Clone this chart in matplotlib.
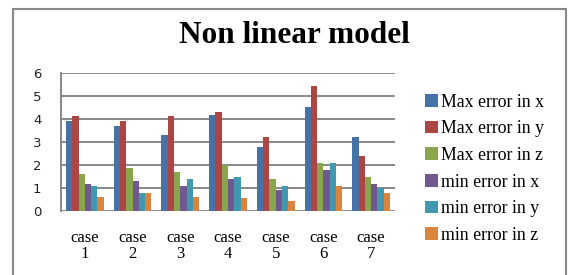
import matplotlib

matplotlib.use("Agg")
import matplotlib.pyplot as plt
import numpy as np
from matplotlib.patches import Rectangle

cases = ["case\n1", "case\n2", "case\n3", "case\n4", "case\n5", "case\n6", "case\n7"]
series_names = [
    "Max error in x",
    "Max error in y",
    "Max error in z",
    "min error in x",
    "min error in y",
    "min error in z",
]
max_err_x = [3.92, 3.70, 3.30, 4.18, 2.78, 4.53, 3.22]
max_err_y = [4.13, 3.92, 4.13, 4.31, 3.22, 5.44, 2.39]
max_err_z = [1.60, 1.88, 1.69, 2.01, 1.38, 2.08, 1.47]
min_err_x = [1.16, 1.30, 1.08, 1.38, 0.90, 1.78, 1.16]
min_err_y = [1.08, 0.77, 1.38, 1.47, 1.08, 2.08, 0.99]
min_err_z = [0.61, 0.77, 0.61, 0.55, 0.42, 1.08, 0.77]
yticks = [0, 1, 2, 3, 4, 5, 6]

colors = ["#4572A7", "#AA4643", "#89A54E", "#71588F", "#4198AF", "#DB843D"]
series = [max_err_x, max_err_y, max_err_z, min_err_x, min_err_y, min_err_z]

fig = plt.figure(figsize=(5.69, 2.75), dpi=100)
ax = fig.add_axes([0.1072, 0.234, 0.587, 0.499])

x = np.arange(len(cases))
width = 0.132
for i, (vals, name, c) in enumerate(zip(series, series_names, colors)):
    ax.bar(x + (i - 2.5) * width, vals, width, color=c, label=name, zorder=3)

ax.set_xlim(-0.5, len(cases) - 0.5)
ax.set_ylim(0, 6)
ax.set_yticks(yticks)
ax.set_yticklabels([str(t) for t in yticks], fontsize=9.5, color="#222222")
ax.set_xticks(x)
ax.set_xticklabels(cases, family="Liberation Serif", fontsize=12, linespacing=1.0)
ax.tick_params(axis="both", length=0)
ax.tick_params(axis="y", pad=14)
ax.tick_params(axis="x", pad=14)
ax.yaxis.grid(True, color="#7f7f7f", linewidth=1.3, zorder=0)
for s in ["top", "right", "bottom"]:
    ax.spines[s].set_visible(False)
ax.spines["left"].set_color("#7f7f7f")
ax.spines["left"].set_linewidth(1.3)

fig.text(0.517, 0.872, "Non linear model", family="Liberation Serif",
         fontweight="bold", fontsize=22.5, ha="center", va="center")

leg = fig.legend(loc="upper left", bbox_to_anchor=(0.735, 0.685), frameon=False,
                 prop={"family": "Liberation Serif", "size": 12.8},
                 handlelength=0.7, handleheight=0.7, handletextpad=0.2,
                 labelspacing=0.54, borderaxespad=0)

fig.patches.append(Rectangle((12.5 / 569, -0.1), (566 - 12.5) / 569, 1.1 - 9 / 275,
                             transform=fig.transFigure, fill=False,
                             edgecolor="#888888", linewidth=1.5))

plt.savefig("out.png", dpi=100)
plt.close()
